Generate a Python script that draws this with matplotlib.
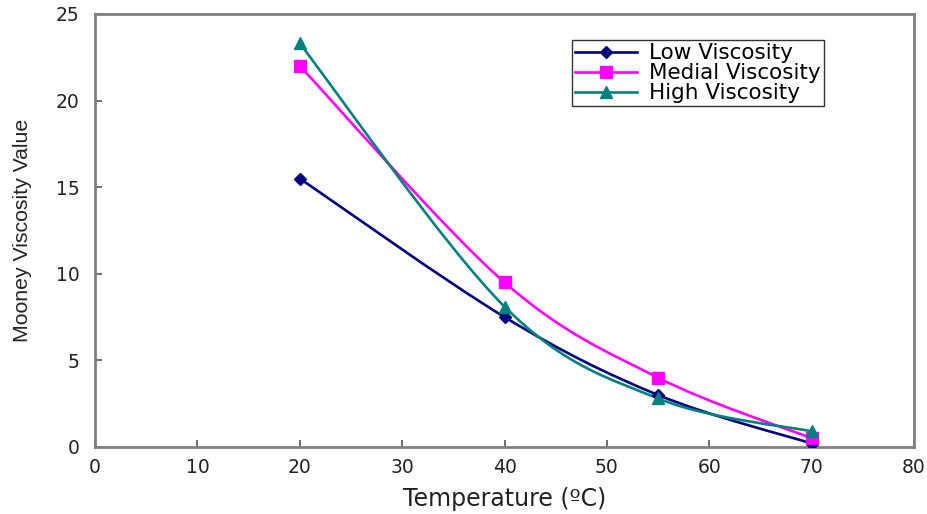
import matplotlib
matplotlib.use("Agg")
import matplotlib.pyplot as plt
from matplotlib.path import Path
from matplotlib.patches import PathPatch
from matplotlib.lines import Line2D

plt.rcParams['font.family'] = ['DejaVu Sans']

temperature = [20, 40, 55, 70]
low_viscosity = [15.5, 7.5, 3.0, 0.2]
medial_viscosity = [22.0, 9.5, 4.0, 0.5]
high_viscosity = [23.3, 8.1, 2.8, 0.9]

series_names = ["Low Viscosity", "Medial Viscosity", "High Viscosity"]
x_ticks = [0, 10, 20, 30, 40, 50, 60, 70, 80]
y_ticks = [0, 5, 10, 15, 20, 25]

colors = ["#000080", "#FF00FF", "#008080"]
markers = ["D", "s", "^"]
msizes = [6, 8, 8]


def smooth_path(xs, ys):
    """Cubic Bezier path through the points (Catmull-Rom style smoothing)."""
    pts = list(zip(xs, ys))
    n = len(pts)
    verts = [pts[0]]
    codes = [Path.MOVETO]
    for i in range(n - 1):
        p0 = pts[i - 1] if i > 0 else pts[i]
        p1 = pts[i]
        p2 = pts[i + 1]
        p3 = pts[i + 2] if i + 2 < n else pts[i + 1]
        c1 = (p1[0] + (p2[0] - p0[0]) / 6, p1[1] + (p2[1] - p0[1]) / 6)
        c2 = (p2[0] - (p3[0] - p1[0]) / 6, p2[1] - (p3[1] - p1[1]) / 6)
        verts += [c1, c2, p2]
        codes += [Path.CURVE4] * 3
    return Path(verts, codes)


fig = plt.figure(figsize=(9.28, 5.14), dpi=100)
ax = fig.add_axes([0.1024, 0.1304, 0.8826, 0.8424])

handles = []
for ys, name, c, m, ms in zip([low_viscosity, medial_viscosity, high_viscosity],
                              series_names, colors, markers, msizes):
    patch = PathPatch(smooth_path(temperature, ys), facecolor="none",
                      edgecolor=c, lw=1.9, zorder=2)
    ax.add_patch(patch)
    ax.plot(temperature, ys, linestyle="none", marker=m, ms=ms, color=c, zorder=3)
    handles.append(Line2D([], [], color=c, lw=1.9, marker=m, ms=ms, label=name))

ax.set_xlim(0, 80)
ax.set_ylim(0, 25)
ax.set_xticks(x_ticks)
ax.set_yticks(y_ticks)
ax.tick_params(direction="in", length=5, width=1.2, color="#555555",
               labelsize=13.5, labelcolor="#222222", pad=8)
ax.tick_params(axis="y", pad=11)
for s in ax.spines.values():
    s.set_color("#808080")
    s.set_linewidth(2)

ax.set_xlabel("Temperature (ºC)", fontsize=17, color="#222222", labelpad=7)
ax.set_ylabel("Mooney Viscosity Value", fontsize=15.3, color="#222222",
              labelpad=17, family=['Liberation Sans', 'DejaVu Sans'])

leg = ax.legend(handles=handles, loc="upper left", bbox_to_anchor=(0.582, 0.94),
                fontsize=15.5, frameon=True, fancybox=False, handlelength=2.9,
                borderpad=0.15, labelspacing=0.0, handletextpad=0.55,
                borderaxespad=0)
leg.get_frame().set_edgecolor("#000000")
leg.get_frame().set_linewidth(1.0)

fig.savefig("out.png", dpi=100)
